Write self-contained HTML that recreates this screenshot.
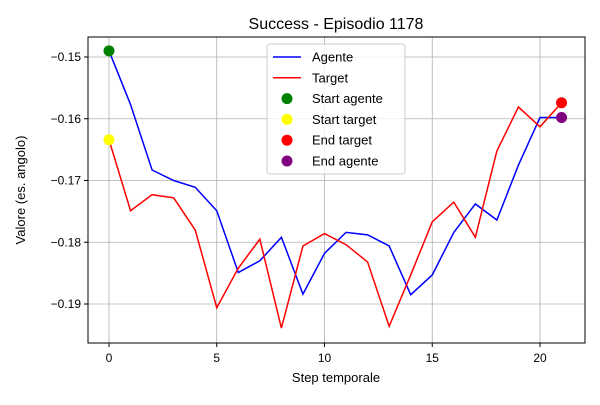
<!DOCTYPE html>
<html><head><meta charset="utf-8"><style>
body{margin:0;background:#fff;}
svg{font-family:"Liberation Sans","DejaVu Sans",sans-serif;}
</style></head><body>
<svg id="chart" width="600" height="400" xmlns="http://www.w3.org/2000/svg">
<rect width="600" height="400" fill="#fff"/>
<text x="336" y="29" text-anchor="middle" font-size="16">Success - Episodio 1178</text>
<g id="grid"></g>
<g id="ticks"></g>
<g id="series"></g>
<rect x="88" y="37" width="497" height="306" fill="none" stroke="#000" stroke-width="1"/>
<text x="336" y="382" text-anchor="middle" font-size="13">Step temporale</text>
<text x="0" y="0" transform="translate(25,190) rotate(-90)" text-anchor="middle" font-size="13">Valore (es. angolo)</text>
<g id="legend">
<rect x="267" y="44" width="138" height="130" fill="#fff" fill-opacity="0.8" stroke="#ccc" rx="3"/>
</g>
</svg>
<script>
const steps=[0,1,2,3,4,5,6,7,8,9,10,11,12,13,14,15,16,17,18,19,20,21];
const agente=[-0.149,-0.1577,-0.1683,-0.170,-0.1711,-0.1749,-0.1849,-0.183,-0.1792,-0.1884,-0.1818,-0.1784,-0.1788,-0.1806,-0.1885,-0.1853,-0.1784,-0.1738,-0.1764,-0.1675,-0.1598,-0.1598];
const target=[-0.1634,-0.1749,-0.1723,-0.1728,-0.1780,-0.1906,-0.1842,-0.1795,-0.1939,-0.1806,-0.1786,-0.1804,-0.1832,-0.1936,-0.1853,-0.1767,-0.1735,-0.1792,-0.1652,-0.1581,-0.1613,-0.1574];
const xTicks=[0,5,10,15,20];
const yTicks=[-0.15,-0.16,-0.17,-0.18,-0.19];
const yTickLabels=["\u22120.15","\u22120.16","\u22120.17","\u22120.18","\u22120.19"];
const legendLabels=["Agente","Target","Start agente","Start target","End target","End agente"];

const NS="http://www.w3.org/2000/svg";
const X=v=>109+(v-0)*(540-109)/20;
const Y=v=>57+(-0.15-v)*(304-57)/0.04;
function mk(tag,attrs,parent){const e=document.createElementNS(NS,tag);for(const k in attrs)e.setAttribute(k,attrs[k]);parent.appendChild(e);return e;}
const grid=document.getElementById('grid'),ticks=document.getElementById('ticks'),series=document.getElementById('series'),legend=document.getElementById('legend');
xTicks.forEach(t=>{
 const g=mk('line',{x1:X(t),x2:X(t),y1:37,y2:343,stroke:'#b0b0b0','stroke-width':0.8},grid);
 
 
 mk('line',{x1:X(t),x2:X(t),y1:343,y2:347,stroke:'#000'},ticks);
 const l=mk('text',{x:X(t),y:362,'text-anchor':'middle','font-size':12},ticks);
 l.textContent=t;
 
 
});
yTicks.forEach((t,i)=>{
 const g=mk('line',{x1:88,x2:585,y1:Y(t),y2:Y(t),stroke:'#b0b0b0','stroke-width':0.8},grid);
 
 
 mk('line',{x1:84,x2:88,y1:Y(t),y2:Y(t),stroke:'#000'},ticks);
 const l=mk('text',{x:81,y:Y(t)+4,'text-anchor':'end','font-size':12},ticks);
 l.textContent=yTickLabels[i];
 
 
});
function line(data,color,name){
 const p=mk('polyline',{points:data.map((v,i)=>X(steps[i])+','+Y(v)).join(' '),fill:'none',stroke:color,'stroke-width':1.5},series);
 
 
}
line(agente,'#0000ff','agente-line');
line(target,'#ff0000','target-line');
function dot(x,y,color,name){
 const c=mk('circle',{cx:X(x),cy:Y(y),r:5.5,fill:color},series);
 
 
}
const n=steps.length-1;
dot(steps[0],agente[0],'green','start-agente-point');
dot(steps[0],target[0],'yellow','start-target-point');
dot(steps[n],target[n],'red','end-target-point');
dot(steps[n],agente[n],'purple','end-agente-point');
const colors=['#0000ff','#ff0000','green','yellow','red','purple'];
legendLabels.forEach((lab,i)=>{
 const y=57+i*20.8;
 if(i<2){mk('line',{x1:273,x2:301,y1:y,y2:y,stroke:colors[i],'stroke-width':1.5},legend);}
 else{mk('circle',{cx:287,cy:y,r:5.5,fill:colors[i]},legend);}
 const t=mk('text',{x:312,y:y+4.5,'font-size':13},legend);
 t.textContent=lab;
 
 
});
</script>
</body></html>
